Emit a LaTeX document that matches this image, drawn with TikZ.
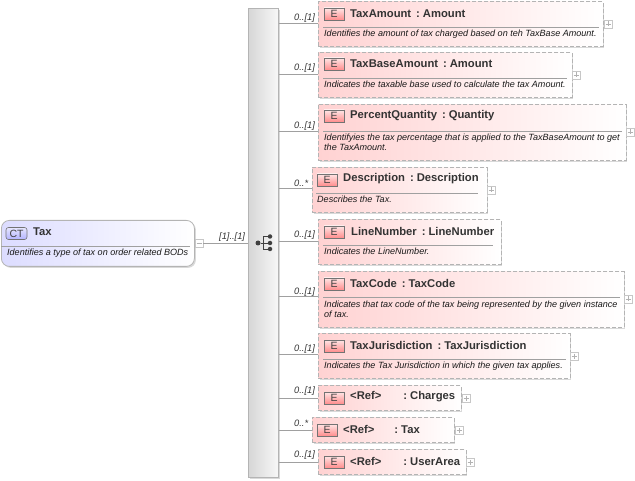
\documentclass[tikz,border=0pt]{standalone}
\usepackage{tikz}
\usepackage{xcolor}
\usepackage{fontspec}
\setmainfont{Liberation Sans}
\usetikzlibrary{shapes,arrows,shadows}

\definecolor{frameGray}{HTML}{B4B4B4}
\definecolor{lineGray}{HTML}{A0A0A0}
\definecolor{elemPink}{HTML}{FFD2D2}
\definecolor{ctBlue}{HTML}{DCDCFF}

\begin{document}
\begin{tikzpicture}[x=1pt,y=-1pt,
    elem_box/.style ={rectangle, draw=frameGray, thick, dash pattern=on 4pt off 2pt, left color=elemPink, right color=white,
      anchor=north west, inner sep=0pt, minimum height=#1,
      drop shadow={shadow xshift=1.5pt, shadow yshift=-1.5pt, fill=black, opacity=.15}},
    elem_box/.default=45pt,
    badge/.style ={rectangle, draw=black!55, semithick, top color=red!10, bottom color=red!45,
      minimum width=20pt, minimum height=12pt, inner sep=0pt, font=\fontsize{10.5}{10}\selectfont, text=black!75},
    title/.style ={anchor=west, inner sep=0pt, yshift=-1pt, font=\fontsize{11.25}{11}\selectfont\bfseries, text=black!80},
    descr/.style ={anchor=north west, inner sep=0pt, align=left, font=\fontsize{9.05}{10}\selectfont\itshape, text=black!90},
    card/.style ={anchor=west, inner sep=0pt, yshift=-0.5pt, font=\fontsize{9.3}{9}\selectfont\itshape, text=black!80},
    sep/.style ={draw=lineGray, thick},
    line/.style ={draw=lineGray, thick},
    toggle/.style ={rectangle, draw=black!22, fill=white, minimum size=8pt, inner sep=0pt},
    plus/.style ={toggle, path picture={
        \draw[black!30] ([xshift=1.5pt]path picture bounding box.west) -- ([xshift=-1.5pt]path picture bounding box.east);
        \draw[black!30] ([yshift=-1.5pt]path picture bounding box.north) -- ([yshift=1.5pt]path picture bounding box.south);}},
    minus/.style ={toggle, path picture={
        \draw[black!30] ([xshift=1.5pt]path picture bounding box.west) -- ([xshift=-1.5pt]path picture bounding box.east);}}]
    \useasboundingbox (0,0) rectangle (635,481);

    % complex type on the left
    \node [rectangle, rounded corners=8pt, draw=frameGray, thick, left color=ctBlue, right color=white,
      anchor=north west, minimum width=193pt, minimum height=46pt, inner sep=0pt,
      drop shadow={shadow xshift=1.5pt, shadow yshift=-1.5pt, fill=black, opacity=.15}] (tax) at (1,220) {};
    \node [rectangle, rounded corners=2.5pt, draw=black!55, semithick, top color=ctBlue!70, bottom color=blue!30,
      minimum width=21pt, minimum height=12pt, inner sep=0pt, font=\fontsize{10.5}{10}\selectfont, text=black!75]
      (taxBadge) at (16.5,233.5) {CT};
    \node [title] (taxTitle) at (33,231) {Tax};
    \node [descr] (taxDescr) at (7,249) {Identifies a type of tax on order related BODs};
    \path [sep] (tax.west |- 0,246) -- (190,246);
    \node [minus, anchor=west] (taxToggle) at (tax.east |- 0,243) {};

    % sequence bar
    \node [rectangle, draw=frameGray, thick, left color=black!16, right color=black!3,
      anchor=north west, minimum width=30pt, minimum height=469pt, inner sep=0pt,
      drop shadow={shadow xshift=1.5pt, shadow yshift=-1.5pt, fill=black, opacity=.15}] (seqBar) at (248,8) {};
    \path [line] (taxToggle) -- (taxToggle -| seqBar.west);
    \node [card] (taxCard) at (219,236.5) {[1]..[1]};
    % sequence symbol
    \node [circle, fill=black!75, minimum size=5pt, inner sep=0pt] (seqIn) at (258,243) {};
    \node [circle, fill=black!75, minimum size=4.5pt, inner sep=0pt] (seqA) at (270,236.5) {};
    \node [circle, fill=black!75, minimum size=4.5pt, inner sep=0pt] (seqB) at (270,243) {};
    \node [circle, fill=black!75, minimum size=4.5pt, inner sep=0pt] (seqC) at (270,249) {};
    \draw [black!75, thick] (seqIn) -- (seqB);
    \draw [black!75, thick] (seqA) -- (263.5,236.5) -- (263.5,249) -- (seqC);

    % elements - row 1
    \node [elem_box, minimum width=284.5pt] (amount) at (318,1.5) {};
    \node [badge] (amountBadge) at (334,14) {E};
    \node [title] (amountTitle) at (350,12.5) {TaxAmount\hspace{5pt}:\hspace{3pt}Amount};
    \path [sep] (323,27) -- (599,27);
    \node [descr] (amountDescr) at (324,30) {Identifies the amount of tax charged based on teh TaxBase Amount.};
    \node [plus, anchor=west] (amountToggle) at (604,24) {};
    \path [line] (seqBar.east |- 0,23) -- (amount.west |- 0,23);
    \node [card] (amountCard) at (294,18) {0..[1]};
    % elements - row 2
    \node [elem_box, minimum width=253.5pt] (base) at (318,52) {};
    \node [badge] (baseBadge) at (334,64) {E};
    \node [title] (baseTitle) at (350,63) {TaxBaseAmount\hspace{5pt}:\hspace{3pt}Amount};
    \path [sep] (323,78) -- (567,78);
    \node [descr] (baseDescr) at (324,81) {Indicates the taxable base used to calculate the tax Amount.};
    \node [plus, anchor=west] (baseToggle) at (572,75) {};
    \path [line] (seqBar.east |- 0,74) -- (base.west |- 0,74);
    \node [card] (baseCard) at (294,68) {0..[1]};
    % elements - row 3
    \node [elem_box=56pt, minimum width=307.5pt] (percent) at (318,104) {};
    \node [badge] (percentBadge) at (334,116) {E};
    \node [title] (percentTitle) at (350,115) {PercentQuantity\hspace{5pt}:\hspace{3pt}Quantity};
    \path [sep] (323,131) -- (622,131);
    \node [descr] (percentDescr) at (324,134) {Identifyies the tax percentage that is applied to the TaxBaseAmount to get\\the TaxAmount.};
    \node [plus, anchor=west] (percentToggle) at (626,132) {};
    \path [line] (seqBar.east |- 0,131) -- (percent.west |- 0,131);
    \node [card] (percentCard) at (294,126) {0..[1]};
    % elements - row 4
    \node [elem_box, minimum width=174.5pt] (desc) at (312,167) {};
    \node [badge] (descBadge) at (327,180) {E};
    \node [title] (descTitle) at (343,178) {Description\hspace{5pt}:\hspace{3pt}Description};
    \path [sep] (316,193) -- (478,193);
    \node [descr] (descDescr) at (317,196) {Describes the Tax.};
    \node [plus, anchor=west] (descToggle) at (487,190) {};
    \path [line] (seqBar.east |- 0,188) -- (desc.west |- 0,188);
    \node [card] (descCard) at (294,183) {0..*};
    % elements - row 5
    \node [elem_box, minimum width=182.5pt] (number) at (318,219) {};
    \node [badge] (numberBadge) at (334,232) {E};
    \node [title] (numberTitle) at (351,230) {LineNumber\hspace{5pt}:\hspace{3pt}LineNumber};
    \path [sep] (323,245) -- (493,245);
    \node [descr] (numberDescr) at (324,248) {Indicates the LineNumber.};
    \path [line] (seqBar.east |- 0,241) -- (number.west |- 0,241);
    \node [card] (numberCard) at (294,235) {0..[1]};
    % elements - row 6
    \node [elem_box=56pt, minimum width=305.5pt] (code) at (318,271) {};
    \node [badge] (codeBadge) at (334,284) {E};
    \node [title] (codeTitle) at (350,282) {TaxCode\hspace{5pt}:\hspace{3pt}TaxCode};
    \path [sep] (323,297) -- (620,297);
    \node [descr] (codeDescr) at (324,301) {Indicates that tax code of the tax being represented by the given instance\\of tax.};
    \node [plus, anchor=west] (codeToggle) at (624,299) {};
    \path [line] (seqBar.east |- 0,296) -- (code.west |- 0,296);
    \node [card] (codeCard) at (294,292) {0..[1]};
    % elements - row 7
    \node [elem_box, minimum width=251.5pt] (juris) at (318,333) {};
    \node [badge] (jurisBadge) at (334,346) {E};
    \node [title] (jurisTitle) at (350,344) {TaxJurisdiction\hspace{5pt}:\hspace{3pt}TaxJurisdiction};
    \path [sep] (323,359) -- (566,359);
    \node [descr] (jurisDescr) at (324,362) {Indicates the Tax Jurisdiction in which the given tax applies.};
    \node [plus, anchor=west] (jurisToggle) at (570,356) {};
    \path [line] (seqBar.east |- 0,354) -- (juris.west |- 0,354);
    \node [card] (jurisCard) at (294,349) {0..[1]};
    % references - row 8
    \node [elem_box=25pt, minimum width=142.5pt] (charges) at (318,385) {};
    \node [badge] (chargesBadge) at (334,398) {E};
    \node [title] (chargesTitle) at (350,396) {<Ref>\hspace{22pt}:\hspace{3pt}Charges};
    \node [plus, anchor=west] (chargesToggle) at (462,398) {};
    \path [line] (seqBar.east |- 0,398) -- (charges.west |- 0,398);
    \node [card] (chargesCard) at (294,391) {0..[1]};
    % references - row 9
    \node [elem_box=25pt, minimum width=141.5pt] (taxRef) at (312,417) {};
    \node [badge] (taxRefBadge) at (327,430) {E};
    \node [title] (taxRefTitle) at (343,428) {<Ref>\hspace{20pt}:\hspace{3pt}Tax};
    \node [plus, anchor=west] (taxRefToggle) at (455,430.5) {};
    \path [line] (seqBar.east |- 0,430) -- (taxRef.west |- 0,430);
    \node [card] (taxRefCard) at (294,423) {0..*};
    % references - row 10
    \node [elem_box=25pt, minimum width=147.5pt] (user) at (318,449) {};
    \node [badge] (userBadge) at (334,462) {E};
    \node [title] (userTitle) at (350,460) {<Ref>\hspace{22pt}:\hspace{3pt}UserArea};
    \node [plus, anchor=west] (userToggle) at (466,462.5) {};
    \path [line] (seqBar.east |- 0,462) -- (user.west |- 0,462);
    \node [card] (userCard) at (294,455) {0..[1]};
\end{tikzpicture}
\end{document}
